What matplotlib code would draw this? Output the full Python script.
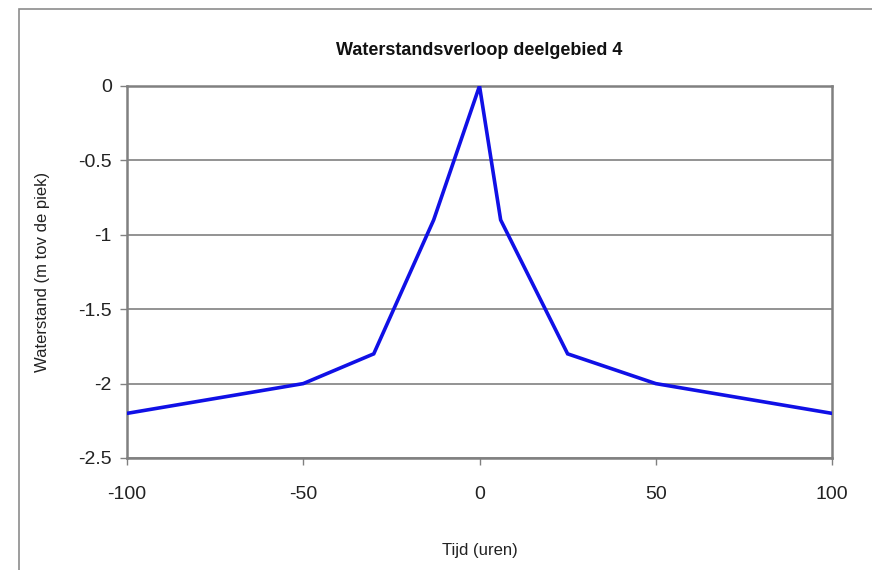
import matplotlib
matplotlib.use("Agg")
import matplotlib.pyplot as plt
from matplotlib.patches import Rectangle

tijd = [-100, -50, -30, -13, 0, 6, 25, 50, 100]
waterstand = [-2.2, -2.0, -1.8, -0.9, 0.0, -0.9, -1.8, -2.0, -2.2]
x_ticks = [-100, -50, 0, 50, 100]
x_tick_labels = ["-100", "-50", "0", "50", "100"]
y_ticks = [0, -0.5, -1, -1.5, -2, -2.5]
y_tick_labels = ["0", "-0.5", "-1", "-1.5", "-2", "-2.5"]

plt.rcParams['font.family'] = ['Liberation Sans', 'DejaVu Sans']

W, H = 872, 570
fig = plt.figure(figsize=(W / 100, H / 100), dpi=100)
ax = fig.add_axes([127 / W, 1 - 458 / H, (832 - 127) / W, (458 - 86) / H])

# outer chart frame
fig.patches.append(Rectangle((19 / W, -0.05), 1.2, 1 - 9 / H + 0.05, transform=fig.transFigure,
                             fill=False, edgecolor='#8c8c8c', linewidth=1.2))

ax.plot(tijd, waterstand, color='#1010e6', linewidth=2.6, solid_joinstyle='miter', zorder=3)

ax.set_xlim(-100, 100)
ax.set_ylim(-2.5, 0)
ax.set_xticks(x_ticks)
ax.set_xticklabels(x_tick_labels)
ax.set_yticks(y_ticks)
ax.set_yticklabels(y_tick_labels)
ax.yaxis.grid(True, color='#808080', linewidth=1.2)
ax.set_axisbelow(True)
for s in ax.spines.values():
    s.set_color('#808080')
    s.set_linewidth(1.8)
ax.tick_params(axis='both', direction='out', length=5, width=1, color='#808080',
               labelsize=14, labelcolor='#222222')
ax.tick_params(axis='x', pad=15)
ax.tick_params(axis='y', pad=6)

ax.set_title('Waterstandsverloop deelgebied 4', fontsize=13, fontweight='bold', pad=22, color='#111111')
ax.set_xlabel('Tijd (uren)', fontsize=12, labelpad=29, color='#222222')
ax.set_ylabel('Waterstand (m tov de piek)', fontsize=12, labelpad=20, color='#222222')

fig.savefig('out.png', dpi=100)
